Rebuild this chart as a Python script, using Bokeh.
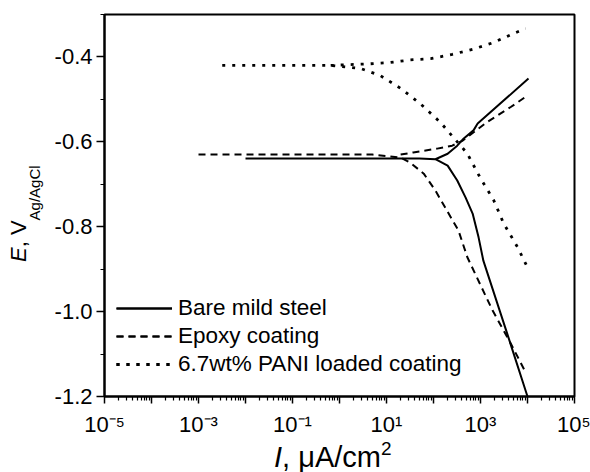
from bokeh.plotting import figure
from bokeh.models import Range1d, FixedTicker, CustomJSTickFormatter, Div
from bokeh.layouts import row, column
from bokeh.embed import file_html
from bokeh.resources import INLINE

# ---------------- data (I in uA/cm2, E in V vs Ag/AgCl) ----------------
bare_cath_I = [0.01, 1, 50, 110, 200, 320, 480, 680, 910, 1150, 3700, 10000]
bare_cath_E = [-0.639, -0.639, -0.639, -0.641, -0.656, -0.691, -0.731, -0.769, -0.825, -0.880, -1.052, -1.200]
bare_anod_I = [110, 200, 320, 440, 710, 870, 10500]
bare_anod_E = [-0.641, -0.628, -0.609, -0.592, -0.573, -0.557, -0.451]

epoxy_cath_I = [0.001, 5, 20, 32, 62, 110, 210, 340, 525, 1800, 4400, 9100]
epoxy_cath_E = [-0.630, -0.630, -0.637, -0.649, -0.675, -0.715, -0.769, -0.809, -0.872, -0.997, -1.075, -1.143]
epoxy_anod_I = [20, 37, 120, 250, 420, 1400, 4400, 10000]
epoxy_anod_E = [-0.630, -0.625, -0.616, -0.609, -0.597, -0.553, -0.518, -0.491]

pani_cath_I = [0.0032, 0.65, 2.8, 7.4, 20, 52, 140, 520, 1000, 1900, 3100, 6200, 10000]
pani_cath_E = [-0.420, -0.420, -0.427, -0.444, -0.474, -0.510, -0.554, -0.627, -0.686, -0.737, -0.792, -0.849, -0.896]
pani_anod_I = [0.65, 4.6, 12, 32, 87, 250, 680, 1900, 5000, 9100]
pani_anod_E = [-0.420, -0.416, -0.413, -0.407, -0.404, -0.394, -0.382, -0.366, -0.345, -0.333]

series_labels = ["Bare mild steel", "Epoxy coating", "6.7wt% PANI loaded coating"]

x_ticks = [1e-5, 1e-4, 1e-3, 1e-2, 1e-1, 1e0, 1e1, 1e2, 1e3, 1e4, 1e5]
x_tick_labels = ["10\u207b\u2075", "", "10\u207b\u00b3", "", "10\u207b\u00b9", "",
                 "10\u00b9", "", "10\u00b3", "", "10\u2075"]
x_minor = [k * d for d in [1e-5, 1e-4, 1e-3, 1e-2, 1e-1, 1e0, 1e1, 1e2, 1e3, 1e4] for k in range(2, 10)]
y_ticks = [-1.2, -1.0, -0.8, -0.6, -0.4]
y_tick_labels = ["-1.2", "-1.0", "-0.8", "-0.6", "-0.4"]
y_minor = [-1.1, -0.9, -0.7, -0.5, -0.3]

FONT = "Liberation Sans"
YDIV_W = 45
P_W, P_H = 590 - YDIV_W, 442
XDIV_H = 472 - P_H

p = figure(width=P_W, height=P_H, x_axis_type="log",
           x_range=Range1d(1e-5, 1e5), y_range=Range1d(-1.2, -0.3),
           output_backend="svg", toolbar_location=None,
           min_border_left=104 - YDIV_W, min_border_right=16,
           min_border_top=14, min_border_bottom=P_H - 396)
p.grid.visible = False
p.outline_line_color = "black"
p.outline_line_width = 2
p.background_fill_color = "white"
p.border_fill_color = "white"

fmt_code = """
let best = -1, bd = Infinity;
for (let i = 0; i < tvals.length; i++) {
  const d = Math.abs(tvals[i] - tick) / Math.max(Math.abs(tvals[i]), 1e-300);
  if (d < bd) { bd = d; best = i; }
}
return bd < 1e-6 ? tlabs[best] : "";
"""

xa = p.xaxis[0]
xa.ticker = FixedTicker(ticks=x_ticks, minor_ticks=x_minor)
xa.formatter = CustomJSTickFormatter(args=dict(tvals=x_ticks, tlabs=x_tick_labels), code=fmt_code)
ya = p.yaxis[0]
ya.ticker = FixedTicker(ticks=y_ticks, minor_ticks=y_minor)
ya.formatter = CustomJSTickFormatter(args=dict(tvals=y_ticks, tlabs=y_tick_labels), code=fmt_code)

for ax in (xa, ya):
    ax.axis_line_width = 2
    ax.axis_line_color = "black"
    ax.major_tick_line_color = "black"
    ax.minor_tick_line_color = "black"
    ax.major_tick_line_width = 1.5
    ax.minor_tick_line_width = 1.2
    ax.major_tick_in = 0
    ax.minor_tick_in = 0
    ax.major_tick_out = 8
    ax.minor_tick_out = 4
    ax.major_label_text_font = FONT
    ax.major_label_text_font_size = "22px"
    ax.major_label_text_color = "black"
xa.major_tick_out = 7
xa.major_label_standoff = 8
ya.major_label_standoff = 4

styles = [("solid", 2.0), ("7 5", 2.0), ("3 7", 2.8)]
curves = [
    (bare_cath_I, bare_cath_E, bare_anod_I, bare_anod_E),
    (epoxy_cath_I, epoxy_cath_E, epoxy_anod_I, epoxy_anod_E),
    (pani_cath_I, pani_cath_E, pani_anod_I, pani_anod_E),
]
for (ci, ce, ai, ae), (dash, lw), lab in zip(curves, styles, series_labels):
    p.line(ci, ce, line_color="black", line_width=lw, line_dash=dash, legend_label=lab)
    p.line(ai, ae, line_color="black", line_width=lw, line_dash=dash, legend_label=lab)

lg = p.legend[0]
lg.location = (12, 18)
lg.padding = 0
lg.margin = 0
lg.spacing = 0
lg.border_line_alpha = 0
lg.background_fill_alpha = 0
lg.glyph_width = 56
lg.glyph_height = 28
lg.label_height = 28
lg.label_standoff = 6
lg.label_text_font = FONT
lg.label_text_font_size = "22.5px"
lg.label_text_color = "black"
lg.label_text_baseline = "middle"

# axis titles with italic symbol and sub/superscript, as real HTML text
y_title = (
    f"<div style=\"position:relative;width:{YDIV_W}px;height:472px;\">"
    "<div style=\"position:absolute;left:8px;top:262px;transform-origin:0 0;"
    "transform:rotate(-90deg);white-space:nowrap;font-family:'Liberation Sans';"
    "font-size:22px;line-height:22px;color:black;\">"
    "<i>E</i>, V<span style=\"position:relative;top:14px;font-size:15px;\">Ag/AgCl</span>"
    "</div></div>"
)
x_title = (
    f"<div style=\"position:relative;width:{P_W}px;height:{XDIV_H}px;\">"
    f"<div style=\"position:absolute;left:{274 - YDIV_W}px;top:1px;white-space:nowrap;"
    "font-family:'Liberation Sans';font-size:29px;line-height:29px;color:black;\">"
    "<i>I</i>, \u03bcA/cm<span style=\"position:relative;top:-12px;font-size:19px;\">2</span>"
    "</div></div>"
)
ydiv = Div(text=y_title, width=YDIV_W, height=472, margin=0)
xdiv = Div(text=x_title, width=P_W, height=XDIV_H, margin=0)

layout = row(ydiv, column(p, xdiv, spacing=0), spacing=0)

open("out.html", "w").write(file_html(layout, INLINE))
